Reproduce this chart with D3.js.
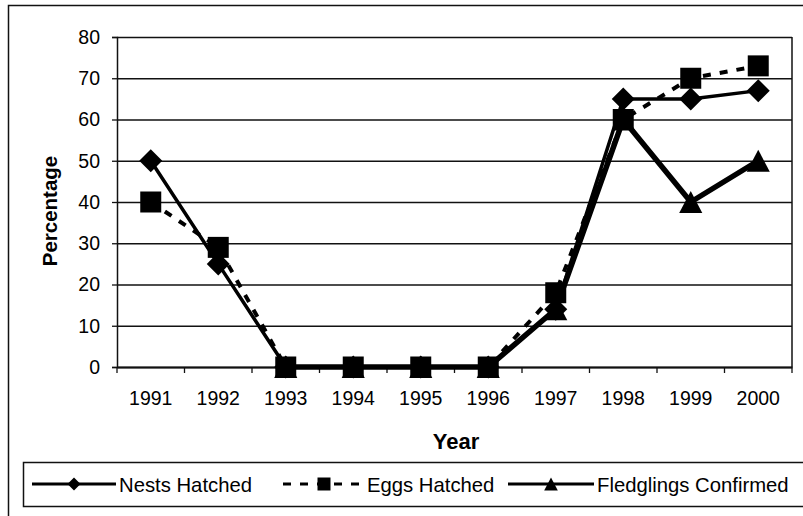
<!DOCTYPE html>
<html>
<head>
<meta charset="utf-8">
<script src="https://cdn.jsdelivr.net/npm/d3@7"></script>
<style>
    body { margin: 0; background: #fff; }
    text { font-family: "Liberation Sans", Arial, sans-serif; fill: #000; }
</style>
</head>
<body>
<script>
var years = ["1991", "1992", "1993", "1994", "1995", "1996", "1997", "1998", "1999", "2000"];
var nestsHatched = [50, 25, 0, 0, 0, 0, 14, 65, 65, 67];
var eggsHatched = [40, 29, 0, 0, 0, 0, 18, 60, 70, 73];
var fledglingsConfirmed = [null, null, 0, 0, 0, 0, 14, 60, 40, 50];
var yTicks = [0, 10, 20, 30, 40, 50, 60, 70, 80];
var seriesNames = ["Nests Hatched", "Eggs Hatched", "Fledglings Confirmed"];

(function()
{
    var w = 803;
    var h = 516;
    var left = 117, right = 792, top = 37, bottom = 367;

    var svg = d3.select("body")
        .append("svg")
        .attr("width", w)
        .attr("height", h);

    // outer frame, runs off the right and bottom edge like the scan
    svg.append("rect")
        .attr("x", 8.5).attr("y", 5.5)
        .attr("width", 820).attr("height", 540)
        .attr("fill", "none").attr("stroke", "#111").attr("stroke-width", 1.5);

    var x = d3.scaleBand().domain(years).range([left, right]);
    var y = d3.scaleLinear().domain([0, 80]).range([bottom, top]);

    // gridlines
    svg.append("g")
        .attr("transform", "translate(" + left + ",0)")
        .call(d3.axisLeft(y).tickValues(yTicks).tickSize(-(right - left)).tickFormat(""))
        .call(function(g) {
            g.select(".domain").remove();
            g.selectAll("line").attr("stroke", "#111").attr("stroke-width", 1.3);
        });

    // y axis
    svg.append("g")
        .attr("transform", "translate(" + left + ",0)")
        .call(d3.axisLeft(y).tickValues(yTicks).tickSize(5).tickPadding(12))
        .call(function(g) {
            g.select(".domain").attr("stroke", "#111").attr("stroke-width", 1.5);
            g.selectAll("line").attr("stroke", "#111").attr("stroke-width", 1.3);
            g.selectAll("text").attr("font-size", "19.5px").attr("font-family", "Liberation Sans, Arial, sans-serif");
        });

    // right border of plot area
    svg.append("line")
        .attr("x1", right).attr("x2", right)
        .attr("y1", top).attr("y2", bottom)
        .attr("stroke", "#111").attr("stroke-width", 1.5);

    // x axis: labels centered, ticks on the category edges
    svg.append("g")
        .attr("transform", "translate(0," + bottom + ")")
        .call(d3.axisBottom(x).tickSize(0).tickPadding(24))
        .call(function(g) {
            g.select(".domain").attr("stroke", "#111").attr("stroke-width", 1.8);
            g.selectAll("text").attr("font-size", "19.5px").attr("font-family", "Liberation Sans, Arial, sans-serif");
        });
    var edges = years.map(function(d) { return x(d); }).concat([right]);
    svg.append("g").selectAll("line")
        .data(edges)
        .enter()
        .append("line")
        .attr("x1", function(d) { return d; })
        .attr("x2", function(d) { return d; })
        .attr("y1", bottom)
        .attr("y2", bottom + 6)
        .attr("stroke", "#111")
        .attr("stroke-width", 1.3);

    // axis titles
    svg.append("text")
        .attr("transform", "translate(57,211) rotate(-90)")
        .attr("text-anchor", "middle")
        .attr("font-size", "20.5px")
        .attr("font-weight", "bold")
        .text("Percentage");
    svg.append("text")
        .attr("x", 456).attr("y", 449)
        .attr("text-anchor", "middle")
        .attr("font-size", "22px")
        .attr("font-weight", "bold")
        .text("Year");

    // marker shapes
    var diamond = function(s) { return "M0," + (-s) + "L" + s + ",0L0," + s + "L" + (-s) + ",0Z"; };
    var square = function(s) { return "M" + (-s) + "," + (-s) + "H" + s + "V" + s + "H" + (-s) + "Z"; };
    var triangle = function(s) { return "M0," + (-s) + "L" + (s * 1.05) + "," + s + "L" + (-s * 1.05) + "," + s + "Z"; };

    var series = [
        { name: seriesNames[0], values: nestsHatched, shape: diamond, size: 11.5, width: 3.5, dash: null },
        { name: seriesNames[1], values: eggsHatched, shape: square, size: 10.5, width: 4, dash: "8,9" },
        { name: seriesNames[2], values: fledglingsConfirmed, shape: triangle, size: 11, width: 5.5, dash: null }
    ];

    var line = d3.line()
        .defined(function(d) { return d != null; })
        .x(function(d, i) { return x(years[i]) + x.bandwidth() / 2; })
        .y(function(d) { return y(d); });

    svg.append("g").selectAll("path")
        .data(series)
        .enter()
        .append("path")
        .attr("d", function(s) { return line(s.values); })
        .attr("fill", "none")
        .attr("stroke", "#000")
        .attr("stroke-width", function(s) { return s.width; })
        .attr("stroke-dasharray", function(s) { return s.dash; });

    // markers, fledglings underneath
    [series[2], series[1], series[0]].forEach(function(s) {
        var pts = s.values.map(function(d, i) { return { v: d, yr: years[i] }; })
            .filter(function(p) { return p.v != null; });
        svg.append("g").selectAll("path")
            .data(pts)
            .enter()
            .append("path")
            .attr("transform", function(p) {
                return "translate(" + (x(p.yr) + x.bandwidth() / 2) + "," + y(p.v) + ")";
            })
            .attr("d", s.shape(s.size))
            .attr("fill", "#000");
    });

    // legend
    svg.append("rect")
        .attr("x", 23.5).attr("y", 462.5)
        .attr("width", 800).attr("height", 44)
        .attr("fill", "none").attr("stroke", "#111").attr("stroke-width", 1.5);

    var legendPos = [
        { x1: 32, x2: 116, tx: 119 },
        { x1: 283, x2: 365, tx: 367 },
        { x1: 508, x2: 594, tx: 597 }
    ];
    var ly = 484;
    var legend = svg.append("g").selectAll("g")
        .data(series)
        .enter()
        .append("g");
    legend.append("line")
        .attr("x1", function(s, i) { return legendPos[i].x1; })
        .attr("x2", function(s, i) { return legendPos[i].x2; })
        .attr("y1", ly).attr("y2", ly)
        .attr("stroke", "#000")
        .attr("stroke-width", 3)
        .attr("stroke-dasharray", function(s) { return s.dash; });
    legend.append("path")
        .attr("transform", function(s, i) {
            return "translate(" + (legendPos[i].x1 + legendPos[i].x2) / 2 + "," + ly + ")";
        })
        .attr("d", function(s) { return s.shape(6.5); })
        .attr("fill", "#000");
    legend.append("text")
        .attr("x", function(s, i) { return legendPos[i].tx; })
        .attr("y", ly + 7.5)
        .attr("font-size", "20.3px")
        .text(function(s) { return s.name; });
})();
</script>
</body>
</html>
